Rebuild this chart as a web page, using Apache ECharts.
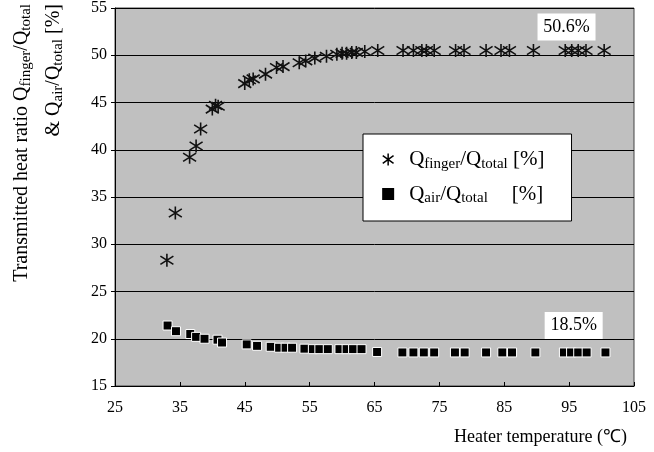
<!DOCTYPE html>
<html>
<head>
<meta charset="utf-8">
<script src="https://cdn.jsdelivr.net/npm/echarts@6/dist/echarts.min.js"></script>
<style>html,body{margin:0;padding:0;background:#fff;}#c{width:654px;height:452px;}</style>
</head>
<body>
<div id="c"></div>
<script>
// Heater temperature (°C) and transmitted heat ratio (%)
var fingerTemp = [33.0, 34.3, 36.5, 37.5, 38.2, 40.0, 40.5, 40.9, 45.0, 45.7, 46.3, 48.2, 49.9, 50.9, 53.4, 54.4, 55.8, 57.6, 59.2, 60.0, 60.7, 61.5, 62.2, 63.5, 65.5, 69.4, 71.0, 72.3, 73.0, 74.2, 77.5, 78.8, 82.2, 84.5, 85.8, 89.5, 94.4, 95.4, 96.4, 97.6, 100.4];
var fingerRatio = [28.3, 33.3, 39.2, 40.4, 42.2, 44.3, 44.7, 44.6, 47.0, 47.4, 47.5, 48.0, 48.7, 48.8, 49.2, 49.4, 49.7, 49.9, 50.1, 50.2, 50.2, 50.3, 50.3, 50.4, 50.5, 50.5, 50.5, 50.5, 50.5, 50.5, 50.5, 50.5, 50.5, 50.5, 50.5, 50.5, 50.5, 50.5, 50.5, 50.5, 50.5];
var airTemp = [33.1, 34.4, 36.6, 37.5, 38.8, 40.8, 41.5, 45.3, 46.9, 49.0, 50.3, 51.3, 52.3, 54.2, 55.5, 56.5, 57.8, 59.6, 60.7, 61.7, 63.0, 65.4, 69.3, 71.0, 72.6, 74.2, 77.4, 78.9, 82.2, 84.7, 86.2, 89.8, 94.2, 95.3, 96.4, 97.7, 100.6];
var airRatio = [21.4, 20.8, 20.5, 20.2, 20.0, 19.9, 19.6, 19.4, 19.25, 19.15, 19.05, 19.05, 19.05, 18.95, 18.9, 18.9, 18.9, 18.9, 18.9, 18.9, 18.9, 18.6, 18.55, 18.55, 18.55, 18.55, 18.55, 18.55, 18.55, 18.55, 18.55, 18.55, 18.55, 18.55, 18.55, 18.55, 18.55];
var xTicks = [25, 35, 45, 55, 65, 75, 85, 95, 105];
var yTicks = [15, 20, 25, 30, 35, 40, 45, 50, 55];
var fingerNote = {temp: 94.6, ratio: 53.0, text: '50.6%'};
var airNote = {temp: 95.7, ratio: 21.4, text: '18.5%'};

function zip(a, b) { return a.map(function (v, i) { return [v, b[i]]; }); }

var serif = 'Liberation Serif';
var starPath = 'path://M6,0L6,12M0.6,2.2L11.4,9.8M0.6,9.8L11.4,2.2';
var rich = {
  q: {fontFamily: serif, fontSize: 20, color: '#000', lineHeight: 24, verticalAlign: 'middle'},
  s: {fontFamily: serif, fontSize: 15, color: '#000', lineHeight: 14, verticalAlign: 'bottom'},
  g: {width: 24}
};
var legRich = {
  q: {fontFamily: serif, fontSize: 21, color: '#000', lineHeight: 24, verticalAlign: 'middle'},
  s: {fontFamily: serif, fontSize: 15, color: '#000', lineHeight: 14, verticalAlign: 'bottom'},
  g: {width: 24}
};

var chart = echarts.init(document.getElementById('c'), null, {renderer: 'canvas'});
chart.setOption({
  backgroundColor: '#fff',
  animation: false,
  grid: {left: 115, right: 20, top: 8, bottom: 66, show: true, backgroundColor: '#c0c0c0', borderColor: '#444', borderWidth: 1},
  xAxis: {
    type: 'value', min: xTicks[0], max: xTicks[xTicks.length - 1], interval: 10,
    axisLine: {lineStyle: {color: '#000', width: 1}},
    axisTick: {inside: true, length: 4, lineStyle: {color: '#000'}},
    splitLine: {show: false},
    axisLabel: {fontFamily: serif, fontSize: 16, color: '#000', margin: 14},
    name: 'Heater temperature (℃)', nameLocation: 'end', nameGap: -7,
    nameTextStyle: {fontFamily: serif, fontSize: 18, color: '#000', align: 'right', verticalAlign: 'top', padding: [42, 0, 0, 0]}
  },
  yAxis: {
    type: 'value', min: yTicks[0], max: yTicks[yTicks.length - 1], interval: 5,
    axisLine: {show: true, lineStyle: {color: '#000', width: 1}},
    axisTick: {show: true, inside: false, length: 4, lineStyle: {color: '#000'}},
    splitLine: {show: true, lineStyle: {color: '#000', width: 1}},
    axisLabel: {fontFamily: serif, fontSize: 16, color: '#000', margin: 8}
  },
  legend: {
    orient: 'vertical', left: 363, top: 134,
    backgroundColor: '#fff', borderColor: '#000', borderWidth: 1,
    padding: [15, 27, 15, 19], itemGap: 12, itemWidth: 12, itemHeight: 12,
    textStyle: {rich: legRich, padding: [0, 0, 0, 10]},
    formatter: function (n) {
      if (n === 'finger') return '{q|Q}{s|finger}{q|/Q}{s|total}{q| [%]}';
      return '{q|Q}{s|air}{q|/Q}{s|total}{g|}{q|[%]}';
    },
    data: [
      {name: 'finger', icon: starPath, itemStyle: {color: '#000', borderColor: '#000', borderWidth: 1.5}},
      {name: 'air', icon: 'rect', itemStyle: {color: '#000', borderWidth: 0}}
    ]
  },
  series: [
    {
      name: 'finger', type: 'scatter', data: zip(fingerTemp, fingerRatio),
      symbol: starPath, symbolSize: 13,
      itemStyle: {color: '#000', borderColor: '#111', borderWidth: 1.6, opacity: 1},
      markPoint: {
        symbol: 'rect', symbolSize: [58, 27], silent: true,
        itemStyle: {color: '#fff', borderWidth: 0},
        label: {show: true, position: 'inside', fontFamily: serif, fontSize: 18, color: '#000', formatter: function (p) { return p.data.name; }},
        data: [{coord: [fingerNote.temp, fingerNote.ratio], name: fingerNote.text}]
      }
    },
    {
      name: 'air', type: 'scatter', data: zip(airTemp, airRatio),
      symbol: 'rect', symbolSize: 9,
      itemStyle: {color: '#000', borderColor: '#fff', borderWidth: 1, opacity: 1},
      markPoint: {
        symbol: 'rect', symbolSize: [58, 27], silent: true,
        itemStyle: {color: '#fff', borderWidth: 0},
        label: {show: true, position: 'inside', fontFamily: serif, fontSize: 18, color: '#000', formatter: function (p) { return p.data.name; }},
        data: [{coord: [airNote.temp, airNote.ratio], name: airNote.text}]
      }
    }
  ],
  graphic: [
    {
      type: 'text', x: 22, y: 4, rotation: Math.PI / 2,
      style: {text: '{q|Transmitted heat ratio Q}{s|finger}{q|/Q}{s|total}', rich: rich, align: 'right', verticalAlign: 'middle'}
    },
    {
      type: 'text', x: 54, y: 4, rotation: Math.PI / 2,
      style: {text: '{q|& Q}{s|air}{q|/Q}{s|total}{q| [%]}', rich: rich, align: 'right', verticalAlign: 'middle'}
    }
  ]
});
</script>
</body>
</html>
